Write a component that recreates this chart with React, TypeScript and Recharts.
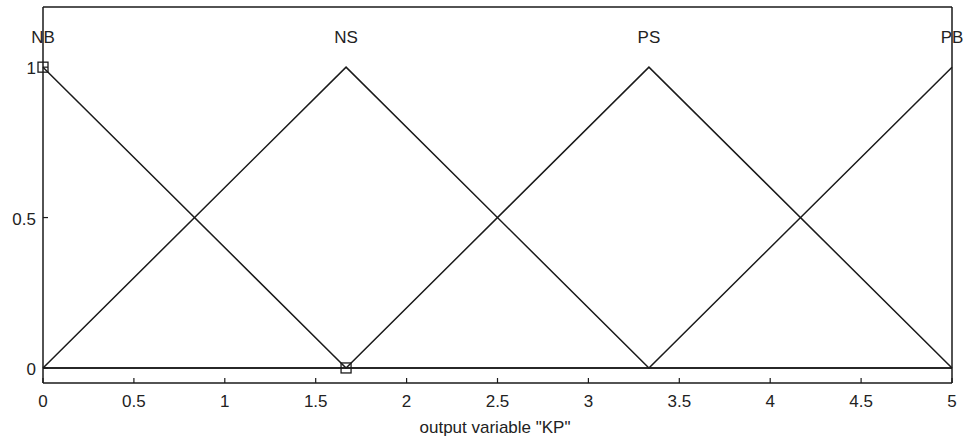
import { ComposedChart, Line, Scatter, XAxis, YAxis } from 'recharts';

// membership functions of output variable "KP" (triangles over 0..5)
const mfNames = ['NB', 'NS', 'PS', 'PB'];
const mfPeaks = [0, 1.667, 3.333, 5];
const labelLevel = 1.1;

const nbPoints = [
  { x: 0, y: 1 },
  { x: 1.667, y: 0 },
  { x: 5, y: 0 },
];
const nsPoints = [
  { x: 0, y: 0 },
  { x: 1.667, y: 1 },
  { x: 3.333, y: 0 },
  { x: 5, y: 0 },
];
const psPoints = [
  { x: 0, y: 0 },
  { x: 1.667, y: 0 },
  { x: 3.333, y: 1 },
  { x: 5, y: 0 },
];
const pbPoints = [
  { x: 0, y: 0 },
  { x: 3.333, y: 0 },
  { x: 5, y: 1 },
];

// little squares marking the selected points
const markerPoints = [
  { x: 0, y: 1 },
  { x: 1.667, y: 0 },
];

const xTicks = [0, 0.5, 1, 1.5, 2, 2.5, 3, 3.5, 4, 4.5, 5];
const yTicks = [0, 0.5, 1];

const INK = '#1a1a1a';
const FONT = '"Liberation Sans", Arial, sans-serif';

const labelData = mfNames.map((name, i) => ({ x: mfPeaks[i], y: labelLevel, name }));

const BottomTick = ({ x, y, payload }: any) => (
  <g>
    <line x1={x} y1={y} x2={x} y2={y - 5} stroke={INK} strokeWidth={1.2} />
    <text x={x} y={y + 24} textAnchor="middle" fontSize={17} fill="#222" fontFamily={FONT}>
      {payload.value}
    </text>
  </g>
);

const TopTick = ({ x, y }: any) => <line x1={x} y1={y} x2={x} y2={y + 5} stroke={INK} strokeWidth={1.2} />;

const LeftTick = ({ x, y, payload }: any) => (
  <g>
    <line x1={x} y1={y} x2={x + 5} y2={y} stroke={INK} strokeWidth={1.2} />
    <text x={x - 7} y={y + 7} textAnchor="end" fontSize={17} fill="#222" fontFamily={FONT}>
      {payload.value}
    </text>
  </g>
);

const RightTick = ({ x, y }: any) => <line x1={x} y1={y} x2={x - 5} y2={y} stroke={INK} strokeWidth={1.2} />;

export default function App() {
  const series = [nbPoints, nsPoints, psPoints, pbPoints];
  return (
    <div style={{ position: 'absolute', left: 0, top: 0, background: '#fff' }}>
      <ComposedChart width={963} height={444} margin={{ top: 6, right: 10, bottom: 60, left: 42 }}>
        <XAxis
          xAxisId="b"
          type="number"
          dataKey="x"
          domain={[0, 5]}
          ticks={xTicks}
          height={1}
          tickSize={0}
          tickMargin={0}
          tick={<BottomTick />}
          axisLine={{ stroke: INK, strokeWidth: 1.5 }}
          tickLine={false}
          interval={0}
        />
        <XAxis
          xAxisId="t"
          orientation="top"
          type="number"
          dataKey="x"
          domain={[0, 5]}
          ticks={xTicks}
          height={1}
          tickSize={0}
          tickMargin={0}
          tick={<TopTick />}
          axisLine={{ stroke: INK, strokeWidth: 1.5 }}
          tickLine={false}
          interval={0}
        />
        <YAxis
          yAxisId="l"
          type="number"
          domain={[-0.05, 1.2]}
          ticks={yTicks}
          width={1}
          tickSize={0}
          tickMargin={0}
          tick={<LeftTick />}
          axisLine={{ stroke: INK, strokeWidth: 1.5 }}
          tickLine={false}
          interval={0}
        />
        <YAxis
          yAxisId="r"
          orientation="right"
          type="number"
          domain={[-0.05, 1.2]}
          ticks={yTicks}
          width={1}
          tickSize={0}
          tickMargin={0}
          tick={<RightTick />}
          axisLine={{ stroke: INK, strokeWidth: 1.5 }}
          tickLine={false}
          interval={0}
        />
        {series.map((pts, i) => (
          <Line
            key={mfNames[i]}
            xAxisId="b"
            yAxisId="l"
            data={pts}
            dataKey="y"
            type="linear"
            stroke={INK}
            strokeWidth={1.5}
            dot={false}
            activeDot={false}
            isAnimationActive={false}
          />
        ))}
        <Scatter
          xAxisId="b"
          yAxisId="l"
          data={labelData}
          dataKey="y"
          isAnimationActive={false}
          shape={(p: any) => (
            <text
              x={p.cx}
              y={p.cy + 6}
              textAnchor="middle"
              fontSize={17}
              fill="#222"
              fontFamily={FONT}
            >
              {p.payload.name}
            </text>
          )}
        />
        <Scatter
          xAxisId="b"
          yAxisId="l"
          data={markerPoints}
          dataKey="y"
          isAnimationActive={false}
          shape={(p: any) => (
            <rect x={p.cx - 5} y={p.cy - 5} width={10} height={10} fill="none" stroke={INK} strokeWidth={1.3} />
          )}
        />
      </ComposedChart>
      <div
        style={{
          position: 'absolute',
          left: 0,
          width: 990,
          top: 418,
          textAlign: 'center',
          fontSize: 17,
          fontFamily: FONT,
          color: '#222',
        }}
      >
        output variable "KP"
      </div>
    </div>
  );
}
